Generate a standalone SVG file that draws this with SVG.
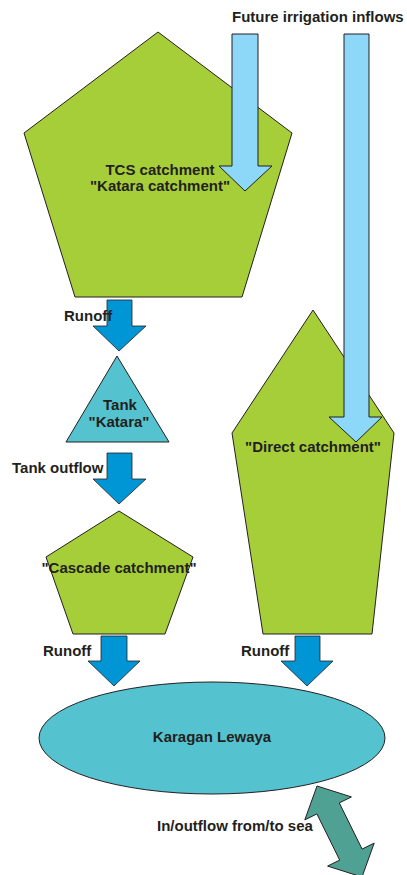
<svg xmlns="http://www.w3.org/2000/svg" width="407" height="875" viewBox="0 0 407 875">
<style>
.catch{fill:#a6ce39;stroke:#231f20;stroke-width:1}
.water{fill:#54c3cf;stroke:#231f20;stroke-width:1}
.irr{fill:#8dd8f8;stroke:#231f20;stroke-width:1}
.run{fill:#0096d6;stroke:#231f20;stroke-width:0.8}
.sea{fill:#4fa293;stroke:#231f20;stroke-width:1}
text{font-family:"Liberation Sans",Arial,sans-serif;font-weight:bold;font-size:15px;fill:#231f20}
.c{text-anchor:middle}
</style>
<rect width="407" height="875" fill="#fff"/>
<g id="tcs-catchment">
<polygon class="catch" points="158,32 292,133 242,297 75,297 24,133"/>
</g>
<g id="direct-catchment">
<polygon class="catch" points="313,310 394,433 372,634 263,634 232,433"/>
</g>
<g id="tank-katara">
<polygon class="water" points="117,356 169,442 66,442"/>
</g>
<g id="cascade-catchment">
<polygon class="catch" points="119,511 193,557 165,634 73,634 46,557"/>
</g>
<g id="karagan-lewaya">
<ellipse class="water" cx="212" cy="738" rx="173" ry="56"/>
</g>
<g id="connectors">
<polygon class="irr" points="232,34 258,34 258,166 272,166 245,191 219,166 232,166"/>
<polygon class="irr" points="344,34 369,34 369,417 382,417 356,442 329,417 344,417"/>
<polygon class="run" points="107,300 132,300 132,326 146,326 119,351 93,326 107,326"/>
<polygon class="run" points="107,453 132,453 132,479 146,479 119,504 93,479 107,479"/>
<polygon class="run" points="101,636 127,636 127,661 140,661 114,686 88,661 101,661"/>
<polygon class="run" points="295,636 320,636 320,661 333,661 307,686 281,661 295,661"/>
<polygon class="sea" points="317,786 351.4,796.9 339.3,802.9 362.1,849.1 374.2,843.1 362,877 327.6,866.1 339.7,860.1 316.9,813.9 304.8,819.9"/>
</g>
<g id="labels">
<text x="232" y="22">Future irrigation inflows</text>
<text class="c" x="160" y="175">TCS catchment</text>
<text class="c" x="160" y="191">"Katara catchment"</text>
<text x="64" y="321">Runoff</text>
<text class="c" x="120" y="410">Tank</text>
<text class="c" x="119" y="427">"Katara"</text>
<text x="12" y="473">Tank outflow</text>
<text class="c" x="313" y="452">"Direct catchment"</text>
<text class="c" x="119" y="573">"Cascade catchment"</text>
<text x="43" y="656">Runoff</text>
<text x="241" y="656">Runoff</text>
<text class="c" x="212" y="742">Karagan Lewaya</text>
<text x="157" y="831">In/outflow from/to sea</text>
</g>
</svg>
